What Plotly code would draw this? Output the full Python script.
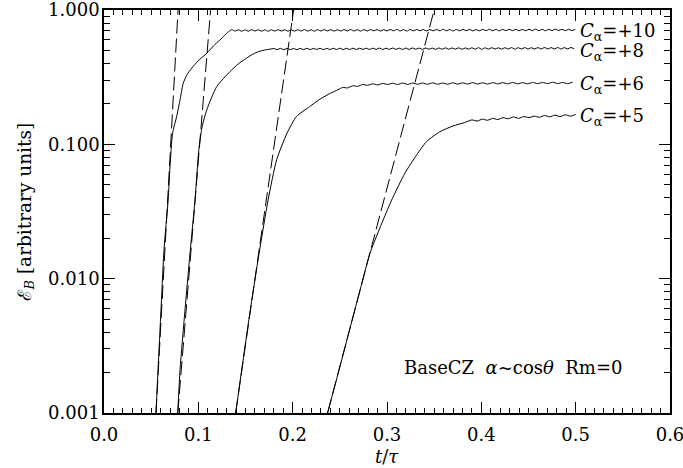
import math
import plotly.graph_objects as go

# ---------------- data ----------------
LABELS = ["+10", "+8", "+6", "+5"]

T_C10 = [0.0551, 0.0573, 0.0605, 0.0636, 0.0680, 0.0700, 0.0727, 0.0770, 0.0806, 0.0840,
         0.0880, 0.0930, 0.1000, 0.1090, 0.1160, 0.1230, 0.1280, 0.1320,
         0.1355, 0.1390, 0.1425, 0.1460, 0.1495, 0.1530, 0.1565, 0.1600, 0.1635, 0.1670,
         0.1705, 0.1740, 0.1775, 0.1810, 0.1845, 0.1880, 0.1915, 0.1950, 0.1985, 0.2020,
         0.2055, 0.2090, 0.2125, 0.2160, 0.2195, 0.2230, 0.2265, 0.2300, 0.2335, 0.2370,
         0.2405, 0.2440, 0.2475, 0.2510, 0.2545, 0.2580, 0.2615, 0.2650, 0.2685, 0.2720,
         0.2755, 0.2790, 0.2825, 0.2860, 0.2895, 0.2930, 0.2965, 0.3000, 0.3035, 0.3070,
         0.3105, 0.3140, 0.3175, 0.3210, 0.3245, 0.3280, 0.3315, 0.3350, 0.3385, 0.3420,
         0.3455, 0.3490, 0.3525, 0.3560, 0.3595, 0.3630, 0.3665, 0.3700, 0.3735, 0.3770,
         0.3805, 0.3840, 0.3875, 0.3910, 0.3945, 0.3980, 0.4015, 0.4050, 0.4085, 0.4120,
         0.4155, 0.4190, 0.4225, 0.4260, 0.4295, 0.4330, 0.4365, 0.4400, 0.4435, 0.4470,
         0.4505, 0.4540, 0.4575, 0.4610, 0.4645, 0.4680, 0.4715, 0.4750, 0.4785, 0.4820,
         0.4855, 0.4890, 0.4925, 0.4960, 0.4995]
E_C10 = [0.0010, 0.0021, 0.0060, 0.0164, 0.0386, 0.0684, 0.121, 0.161, 0.214, 0.285,
         0.330, 0.369, 0.420, 0.477, 0.540, 0.600, 0.650, 0.690,
         0.714, 0.696, 0.713, 0.694, 0.712, 0.695, 0.714, 0.697, 0.713, 0.695,
         0.712, 0.694, 0.713, 0.696, 0.714, 0.697, 0.713, 0.695, 0.712, 0.696,
         0.714, 0.697, 0.715, 0.696, 0.713, 0.695, 0.714, 0.697, 0.715, 0.698,
         0.714, 0.696, 0.713, 0.697, 0.715, 0.698, 0.716, 0.697, 0.714, 0.696,
         0.715, 0.698, 0.716, 0.699, 0.715, 0.697, 0.714, 0.698, 0.716, 0.699,
         0.717, 0.698, 0.715, 0.697, 0.716, 0.699, 0.717, 0.700, 0.716, 0.698,
         0.715, 0.699, 0.717, 0.700, 0.718, 0.699, 0.716, 0.698, 0.717, 0.700,
         0.718, 0.701, 0.717, 0.699, 0.716, 0.700, 0.718, 0.701, 0.719, 0.700,
         0.717, 0.699, 0.718, 0.701, 0.719, 0.702, 0.718, 0.700, 0.717, 0.701,
         0.719, 0.702, 0.720, 0.701, 0.718, 0.700, 0.719, 0.702, 0.720, 0.703,
         0.719, 0.701, 0.718, 0.702, 0.720]

T_C8 = [0.0782, 0.0806, 0.0860, 0.0915, 0.0965, 0.0985, 0.1005, 0.1040, 0.1090, 0.1195,
        0.1336, 0.1420, 0.1510, 0.1580, 0.1640, 0.1700, 0.1760,
        0.1800, 0.1835, 0.1870, 0.1905, 0.1940, 0.1975, 0.2010, 0.2045, 0.2080, 0.2115,
        0.2150, 0.2185, 0.2220, 0.2255, 0.2290, 0.2325, 0.2360, 0.2395, 0.2430, 0.2465,
        0.2500, 0.2535, 0.2570, 0.2605, 0.2640, 0.2675, 0.2710, 0.2745, 0.2780, 0.2815,
        0.2850, 0.2885, 0.2920, 0.2955, 0.2990, 0.3025, 0.3060, 0.3095, 0.3130, 0.3165,
        0.3200, 0.3235, 0.3270, 0.3305, 0.3340, 0.3375, 0.3410, 0.3445, 0.3480, 0.3515,
        0.3550, 0.3585, 0.3620, 0.3655, 0.3690, 0.3725, 0.3760, 0.3795, 0.3830, 0.3865,
        0.3900, 0.3935, 0.3970, 0.4005, 0.4040, 0.4075, 0.4110, 0.4145, 0.4180, 0.4215,
        0.4250, 0.4285, 0.4320, 0.4355, 0.4390, 0.4425, 0.4460, 0.4495, 0.4530, 0.4565,
        0.4600, 0.4635, 0.4670, 0.4705, 0.4740, 0.4775, 0.4810, 0.4845, 0.4880, 0.4915,
        0.4950, 0.4985]
E_C8 = [0.0010, 0.0021, 0.0060, 0.0164, 0.0386, 0.060, 0.091, 0.135, 0.181, 0.269,
        0.348, 0.395, 0.438, 0.470, 0.491, 0.503, 0.511,
        0.517, 0.507, 0.518, 0.506, 0.518, 0.507, 0.517, 0.506, 0.518, 0.507,
        0.519, 0.507, 0.518, 0.508, 0.519, 0.507, 0.518, 0.508, 0.519, 0.508,
        0.520, 0.507, 0.519, 0.508, 0.520, 0.508, 0.519, 0.509, 0.520, 0.508,
        0.520, 0.509, 0.521, 0.508, 0.520, 0.509, 0.521, 0.509, 0.520, 0.508,
        0.521, 0.509, 0.522, 0.510, 0.521, 0.509, 0.522, 0.510, 0.521, 0.509,
        0.522, 0.510, 0.523, 0.510, 0.522, 0.511, 0.523, 0.510, 0.522, 0.511,
        0.523, 0.511, 0.524, 0.510, 0.523, 0.511, 0.524, 0.512, 0.523, 0.511,
        0.524, 0.512, 0.525, 0.511, 0.524, 0.512, 0.525, 0.512, 0.524, 0.513,
        0.525, 0.512, 0.526, 0.513, 0.525, 0.513, 0.526, 0.512, 0.525, 0.513,
        0.526, 0.513]

T_C6 = [0.1396, 0.1460, 0.1550, 0.1650, 0.1740, 0.1830, 0.1940, 0.2040, 0.2180, 0.2290,
        0.2400, 0.2480,
        0.2530, 0.2583, 0.2636, 0.2689, 0.2742, 0.2795, 0.2848, 0.2901, 0.2954, 0.3007,
        0.3060, 0.3113, 0.3166, 0.3219, 0.3272, 0.3325, 0.3378, 0.3431, 0.3484, 0.3537,
        0.3590, 0.3643, 0.3696, 0.3749, 0.3802, 0.3855, 0.3908, 0.3961, 0.4014, 0.4067,
        0.4120, 0.4173, 0.4226, 0.4279, 0.4332, 0.4385, 0.4438, 0.4491, 0.4544, 0.4597,
        0.4650, 0.4703, 0.4756, 0.4809, 0.4862, 0.4915, 0.4968]
E_C6 = [0.0010, 0.0021, 0.0058, 0.0164, 0.0386, 0.0767, 0.121, 0.161, 0.191, 0.217,
        0.240, 0.255,
        0.265, 0.263, 0.273, 0.270, 0.279, 0.275, 0.282, 0.277, 0.284, 0.279,
        0.285, 0.279, 0.286, 0.279, 0.286, 0.280, 0.286, 0.280, 0.287, 0.280,
        0.286, 0.280, 0.287, 0.281, 0.287, 0.281, 0.288, 0.281, 0.287, 0.281,
        0.288, 0.282, 0.288, 0.282, 0.289, 0.282, 0.288, 0.282, 0.289, 0.283,
        0.289, 0.283, 0.290, 0.283, 0.289, 0.283, 0.290]

T_C5 = [0.2370, 0.2500, 0.2608, 0.2715, 0.2820, 0.2960, 0.3050, 0.3190, 0.3315, 0.3420,
        0.3560, 0.3700, 0.3820,
        0.3900, 0.3955, 0.4010, 0.4065, 0.4120, 0.4175, 0.4230, 0.4285, 0.4340, 0.4395,
        0.4450, 0.4505, 0.4560, 0.4615, 0.4670, 0.4725, 0.4780, 0.4835, 0.4890, 0.4945,
        0.5000]
E_C5 = [0.0010, 0.0022, 0.00428, 0.00826, 0.0155, 0.0274, 0.0386, 0.061, 0.0836, 0.105,
        0.124, 0.137, 0.145,
        0.152, 0.149, 0.154, 0.151, 0.156, 0.153, 0.158, 0.155, 0.160, 0.156,
        0.161, 0.158, 0.162, 0.159, 0.164, 0.160, 0.165, 0.161, 0.166, 0.162,
        0.167]

# straight-line (exponential growth) fits: t at E=0.001 and t at E=1.0
FIT_T = [[0.0551, 0.0785], [0.0782, 0.1130], [0.1396, 0.2010], [0.2370, 0.3500]]
FIT_E = [0.001, 1.0]

X_TICKS = [0.0, 0.1, 0.2, 0.3, 0.4, 0.5, 0.6]
X_TICKTEXT = ["0.0", "0.1", "0.2", "0.3", "0.4", "0.5", "0.6"]
Y_TICKS = [0.001, 0.01, 0.1, 1.0]
Y_TICKTEXT = ["0.001", "0.010", "0.100", "1.000"]

X_TITLE = "<i>t</i>/<i>τ</i>"
Y_TITLE = "ℰ<sub><i>B</i></sub> [arbitrary units]"
NOTE = "BaseCZ&nbsp; <i>α</i>~cos<i>θ</i>&nbsp; Rm=0"

# ---------------- figure ----------------
FONT = "DejaVu Serif"
BLACK = "black"
FS = 18
fig = go.Figure()

curves = [(T_C10, E_C10), (T_C8, E_C8), (T_C6, E_C6), (T_C5, E_C5)]
for (t, e), ft in zip(curves, FIT_T):
    fig.add_trace(go.Scatter(x=t, y=e, mode="lines",
                             line=dict(color=BLACK, width=1, shape="spline", smoothing=0.6),
                             showlegend=False, hoverinfo="skip"))
    fig.add_trace(go.Scatter(x=ft, y=FIT_E, mode="lines",
                             line=dict(color=BLACK, width=1, dash="14px,5px"),
                             showlegend=False, hoverinfo="skip"))

# invisible trace that carries the overlay axes used for the minor ticks
fig.add_trace(go.Scatter(x=[0.3], y=[0.01], xaxis="x2", yaxis="y2", mode="markers",
                         marker=dict(opacity=0), showlegend=False, hoverinfo="skip"))

for lab, (t, e) in zip(LABELS, curves):
    fig.add_annotation(x=0.5025, y=math.log10(e[-1]), xref="x", yref="y",
                       text="<i>C</i><sub>α</sub>=" + lab, showarrow=False,
                       xanchor="left", yanchor="middle", yshift=-3,
                       font=dict(family=FONT, size=FS, color=BLACK))

fig.add_annotation(x=0.434, y=-2.663, xref="x", yref="y", text=NOTE, showarrow=False,
                   xanchor="center", yanchor="middle",
                   font=dict(family=FONT, size=FS, color=BLACK))

fig.add_annotation(x=0.5, y=0, xref="paper", yref="paper", text=X_TITLE, showarrow=False,
                   xanchor="center", yanchor="middle", yshift=-43,
                   font=dict(family=FONT, size=FS, color=BLACK))
fig.add_annotation(x=0, y=0.5, xref="paper", yref="paper", text=Y_TITLE, showarrow=False,
                   textangle=-90, xanchor="center", yanchor="middle", xshift=-79,
                   font=dict(family=FONT, size=18.5, color=BLACK))

minor_x = [i / 100 for i in range(61) if i % 10]
minor_y = [m * 10.0 ** d for d in (-3, -2, -1) for m in range(2, 10)]

common = dict(ticks="inside", tickwidth=1, tickcolor=BLACK, showgrid=False,
              zeroline=False, automargin=False)

fig.update_layout(
    width=683, height=468,
    margin=dict(l=104, r=13, t=10, b=55),
    paper_bgcolor="white", plot_bgcolor="white",
    font=dict(family=FONT, size=FS, color=BLACK),
    xaxis=dict(range=[0, 0.6], tickmode="array", tickvals=X_TICKS, ticktext=X_TICKTEXT,
               ticklen=11, showline=True, linecolor=BLACK, linewidth=1.5, mirror="ticks",
               ticklabelstandoff=5, ticklabeloverflow="allow",
               tickfont=dict(family=FONT, size=FS), **common),
    yaxis=dict(type="log", range=[-3, 0], tickmode="array", tickvals=Y_TICKS,
               ticktext=Y_TICKTEXT, ticklen=11, showline=True, linecolor=BLACK,
               linewidth=1.5, mirror="ticks", ticklabelstandoff=-1,
               ticklabeloverflow="allow",
               tickfont=dict(family=FONT, size=FS), **common),
    xaxis2=dict(range=[0, 0.6], overlaying="x", anchor="y2", side="bottom",
                tickmode="array", tickvals=minor_x, ticklen=5, showticklabels=False,
                showline=False, mirror="ticks", **common),
    yaxis2=dict(type="log", range=[-3, 0], overlaying="y", anchor="x2", side="left",
                tickmode="array", tickvals=minor_y, ticklen=6, showticklabels=False,
                showline=False, mirror="ticks", **common),
)

fig.write_html("out.html", config={"displayModeBar": False},
               post_script="document.body.style.margin='0';document.body.style.overflow='hidden';")
